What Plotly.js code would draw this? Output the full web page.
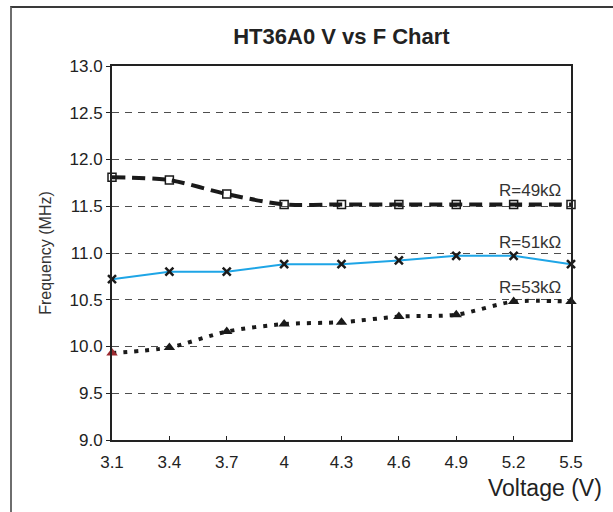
<!DOCTYPE html>
<html>
<head>
<meta charset="utf-8">
<script src="https://cdn.plot.ly/plotly-3.0.1.min.js"></script>
<style>
html,body{margin:0;padding:0;background:#fff;}
#frame{position:absolute;left:10px;top:6px;width:603px;height:506px;border-left:2px solid #6e6e6e;border-top:2px solid #3a3a3a;box-sizing:border-box;}
#chart{position:absolute;left:0;top:0;width:613px;height:512px;}
</style>
</head>
<body>
<div id="frame"></div>
<div id="chart"></div>
<script>
const voltage = [3.1, 3.4, 3.7, 4.0, 4.3, 4.6, 4.9, 5.2, 5.5];
const xTickLabels = ["3.1","3.4","3.7","4","4.3","4.6","4.9","5.2","5.5"];
const yTickVals = [9.0, 9.5, 10.0, 10.5, 11.0, 11.5, 12.0, 12.5, 13.0];
const freqR49 = [11.81, 11.78, 11.63, 11.52, 11.52, 11.52, 11.52, 11.52, 11.52];
const freqR51 = [10.72, 10.80, 10.80, 10.88, 10.88, 10.92, 10.97, 10.97, 10.88];
const freqR53 = [9.93, 9.99, 10.16, 10.24, 10.26, 10.32, 10.34, 10.48, 10.48];
const seriesLabels = ["R=49kΩ", "R=51kΩ", "R=53kΩ"];

const FONT = 'Liberation Sans, Arial, sans-serif';
const traces = [
  {x: voltage, y: freqR49, mode: 'lines+markers', cliponaxis: false, line: {color: '#1a1a1a', width: 4, dash: '13px,7px', shape: 'spline', smoothing: 0.8},
   marker: {symbol: 'square-open', size: 8, color: '#1a1a1a', line: {width: 1.5}}, hoverinfo: 'none'},
  {x: voltage, y: freqR51, mode: 'lines+markers', cliponaxis: false, line: {color: '#1ea5e6', width: 2},
   marker: {symbol: 'x-thin-open', size: 8, color: '#1a1a1a', line: {width: 2.5, color: '#1a1a1a'}}, hoverinfo: 'none'},
  {x: voltage, y: freqR53, mode: 'lines+markers', cliponaxis: false, line: {color: '#1a1a1a', width: 4, dash: '4px,7px', shape: 'spline', smoothing: 0.8},
   marker: {symbol: 'triangle-up', size: 10, color: ['#9b2a30','#1a1a1a','#1a1a1a','#1a1a1a','#1a1a1a','#1a1a1a','#1a1a1a','#1a1a1a','#1a1a1a']}, hoverinfo: 'none'}
];

const labelY = [11.67, 11.11, 10.63];
const annotations = seriesLabels.map((t, i) => ({
  x: voltage[voltage.length-1], y: labelY[i], xref: 'x', yref: 'y', text: t, showarrow: false, xshift: -8,
  xanchor: 'right', yanchor: 'middle', font: {family: FONT, size: 17, color: '#333'}
}));
annotations.push({
  x: 1, y: 0, xref: 'paper', yref: 'paper', xanchor: 'right', yanchor: 'middle', xshift: 33, yshift: -48,
  text: 'Voltage (V)', showarrow: false, font: {family: FONT, size: 23, color: '#222'}
});

const layout = {
  width: 613, height: 512,
  margin: {l: 112, r: 42, t: 66, b: 72},
  paper_bgcolor: 'rgba(0,0,0,0)', plot_bgcolor: '#fff',
  showlegend: false,
  title: {text: '<b>HT36A0 V vs F Chart</b>', x: 0.557, xanchor: 'center', y: 0.93, yanchor: 'middle',
          font: {family: FONT, size: 22, color: '#222'}},
  xaxis: {range: [3.1, 5.5], tickvals: voltage, ticktext: xTickLabels, ticks: 'inside', ticklen: 4, tickcolor: '#222',
          ticklabelstandoff: 6,
          showgrid: false, zeroline: false, showline: true, linecolor: '#222', linewidth: 2, mirror: true,
          tickfont: {family: FONT, size: 17, color: '#222'}},
  yaxis: {range: [9.0, 13.0], tickvals: yTickVals, tickformat: '.1f', ticks: 'outside', ticklen: 4, tickcolor: '#222',
          ticklabelstandoff: 0,
          showgrid: true, gridcolor: '#222', griddash: '7px,6px', gridwidth: 0.8, zeroline: false,
          showline: true, linecolor: '#222', linewidth: 2, mirror: true,
          title: {text: 'Frequency (MHz)', standoff: 14, font: {family: FONT, size: 16, color: '#333'}},
          tickfont: {family: FONT, size: 17, color: '#222'}},
  annotations: annotations
};

Plotly.newPlot('chart', traces, layout, {displayModeBar: false, staticPlot: true});
</script>
</body>
</html>
